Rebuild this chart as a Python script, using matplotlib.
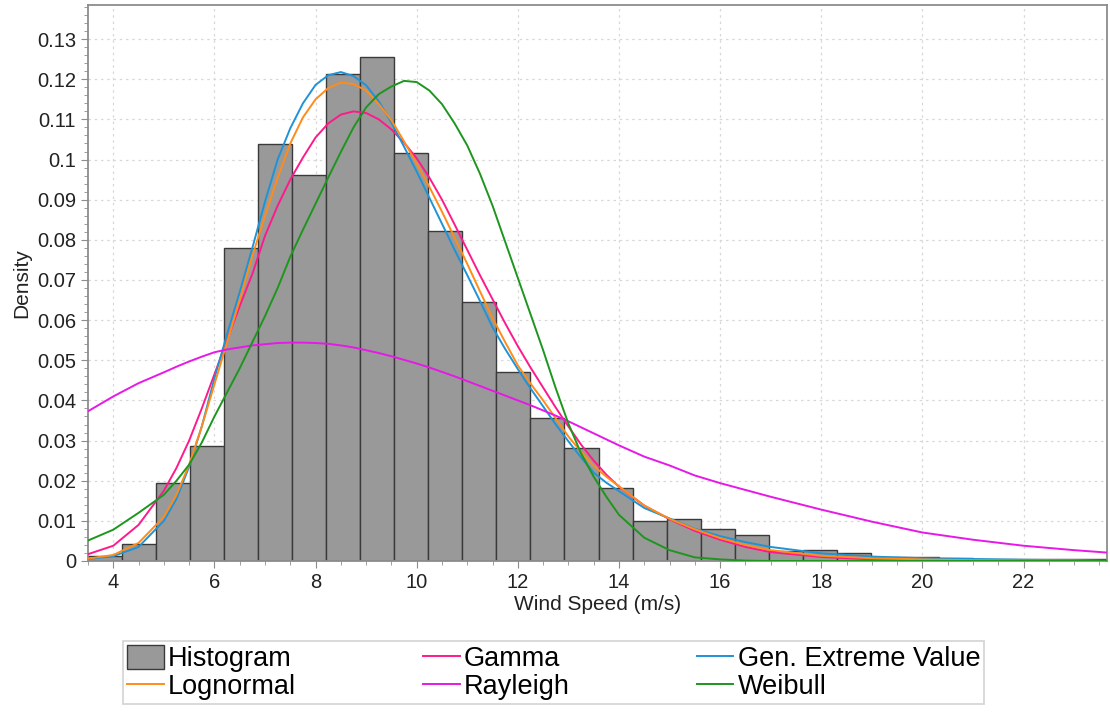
import numpy as np
import matplotlib
matplotlib.use("Agg")
from matplotlib import pyplot as plt
from matplotlib.ticker import MultipleLocator, FuncFormatter

plt.rcParams["font.family"] = ["Liberation Sans", "DejaVu Sans"]

# histogram: 30 bins between 3.5 and 23.69 m/s
bin_lo, bin_hi, n_bins = 3.5, 23.69, 30
hist_density = [0.0012, 0.0042, 0.0195, 0.0287, 0.0780, 0.1038, 0.0962, 0.1212,
                0.1256, 0.1017, 0.0822, 0.0646, 0.0471, 0.0355, 0.0282, 0.0182,
                0.0100, 0.0105, 0.0079, 0.0066, 0.0025, 0.0027, 0.0021, 0.0011,
                0.0009, 0.0008, 0.0004, 0.0004, 0.0004, 0.0004]

curve_x = [3.5, 4, 4.5,
           5, 5.25, 5.5, 5.75, 6, 6.25, 6.5, 6.75, 7, 7.25, 7.5, 7.75,
           8, 8.25, 8.5, 8.75, 9, 9.25, 9.5, 9.75, 10, 10.25, 10.5, 10.75,
           11, 11.25, 11.5, 11.75, 12, 12.25, 12.5, 12.75, 13, 13.25, 13.5, 13.75,
           14, 14.5, 15, 15.5, 16, 16.5, 17, 18, 19, 20, 21, 22, 23, 23.65]
gamma = [0.0017, 0.0038, 0.0090,
         0.0175, 0.0232, 0.0300, 0.0380, 0.0465, 0.0550, 0.0635, 0.0715, 0.0810, 0.0885, 0.0950, 0.1005,
         0.1055, 0.1090, 0.1112, 0.1120, 0.1116, 0.1100, 0.1075, 0.1042, 0.1003, 0.0955, 0.0900, 0.0838,
         0.0775, 0.0712, 0.0652, 0.0592, 0.0535, 0.0482, 0.0432, 0.0382, 0.0335, 0.0290, 0.0250, 0.0215,
         0.0185, 0.0138, 0.0104, 0.0075, 0.0053, 0.0035, 0.0022, 0.0010, 0.0004, 0.0002, 0.0001, 0.0, 0.0, 0.0]
gev = [0.0005, 0.0012, 0.0035,
       0.0100, 0.0155, 0.0235, 0.0335, 0.0455, 0.0565, 0.0670, 0.0780, 0.0895, 0.1000, 0.1078, 0.1140,
       0.1186, 0.1210, 0.1218, 0.1208, 0.1185, 0.1145, 0.1092, 0.1032, 0.0970, 0.0905, 0.0840, 0.0775,
       0.0712, 0.0648, 0.0582, 0.0528, 0.0478, 0.0430, 0.0385, 0.0340, 0.0298, 0.0258, 0.0220, 0.0195,
       0.0174, 0.0132, 0.0106, 0.0080, 0.0062, 0.0047, 0.0035, 0.0019, 0.0011, 0.0007, 0.0005, 0.0003, 0.0002, 0.0001]
lognormal = [0.0006, 0.0015, 0.0045,
             0.0110, 0.0165, 0.0240, 0.0335, 0.0440, 0.0545, 0.0650, 0.0760, 0.0860, 0.0955, 0.1040, 0.1105,
             0.1150, 0.1178, 0.1192, 0.1188, 0.1172, 0.1138, 0.1098, 0.1045, 0.0990, 0.0932, 0.0870, 0.0805,
             0.0740, 0.0672, 0.0605, 0.0545, 0.0487, 0.0442, 0.0400, 0.0355, 0.0310, 0.0272, 0.0237, 0.0210,
             0.0186, 0.0138, 0.0105, 0.0079, 0.0057, 0.0040, 0.0027, 0.0013, 0.0007, 0.0004, 0.0002, 0.0001, 0.0001, 0.0]
rayleigh = [0.0373, 0.0410, 0.0443,
            0.0470, 0.0484, 0.0497, 0.0509, 0.0520, 0.0527, 0.0532, 0.0537, 0.0540, 0.0543, 0.0544, 0.0544,
            0.0543, 0.0541, 0.0537, 0.0532, 0.0525, 0.0518, 0.0510, 0.0501, 0.0492, 0.0482, 0.0471, 0.0460,
            0.0448, 0.0436, 0.0424, 0.0412, 0.0400, 0.0388, 0.0375, 0.0362, 0.0348, 0.0333, 0.0318, 0.0303,
            0.0288, 0.0260, 0.0238, 0.0213, 0.0194, 0.0177, 0.0160, 0.0128, 0.0098, 0.0071, 0.0053, 0.0038, 0.0027, 0.0021]
weibull = [0.0051, 0.0078, 0.0120,
           0.0165, 0.0200, 0.0240, 0.0295, 0.0360, 0.0420, 0.0480, 0.0545, 0.0610, 0.0680, 0.0758, 0.0825,
           0.0890, 0.0955, 0.1019, 0.1080, 0.1130, 0.1163, 0.1182, 0.1196, 0.1193, 0.1172, 0.1138, 0.1090,
           0.1035, 0.0965, 0.0885, 0.0795, 0.0705, 0.0615, 0.0525, 0.0430, 0.0342, 0.0268, 0.0210, 0.0160,
           0.0115, 0.0058, 0.0027, 0.0009, 0.0004, 0.0001, 0.0, 0.0, 0.0, 0.0, 0.0, 0.0, 0.0, 0.0]

fig = plt.figure(figsize=(11.1, 7.12), dpi=100)
ax = fig.add_axes([88 / 1110, 151 / 712, 1019 / 1110, 556 / 712])

edges = np.linspace(bin_lo, bin_hi, n_bins + 1)
hbar = ax.bar(edges[:-1], hist_density, width=np.diff(edges), align="edge",
              color="#999999", edgecolor="#3a3a3a", linewidth=1.0, zorder=2,
              label="Histogram")

lw = 1.4
l_gamma, = ax.plot(curve_x, gamma, color="#ff1a8c", lw=lw, zorder=3, label="Gamma")
l_gev, = ax.plot(curve_x, gev, color="#1f93d6", lw=lw, zorder=3, label="Gen. Extreme Value")
l_logn, = ax.plot(curve_x, lognormal, color="#ff8c1a", lw=lw, zorder=3, label="Lognormal")
l_ray, = ax.plot(curve_x, rayleigh, color="#e619e6", lw=lw, zorder=3, label="Rayleigh")
l_weib, = ax.plot(curve_x, weibull, color="#1e961e", lw=lw, zorder=3, label="Weibull")

ax.set_xlim(3.5, 23.65)
ax.set_ylim(0, 0.1385)
ax.xaxis.set_major_locator(MultipleLocator(2))
ax.xaxis.set_minor_locator(MultipleLocator(0.5))
ax.yaxis.set_major_locator(MultipleLocator(0.01))
ax.yaxis.set_minor_locator(MultipleLocator(0.002))
ax.yaxis.set_major_formatter(FuncFormatter(lambda v, p: "%g" % round(v, 3)))

ax.grid(True, which="major", color="#d8d8d8", linestyle=(0, (2, 3)), linewidth=0.9, zorder=0)
ax.set_axisbelow(True)
for s in ax.spines.values():
    s.set_color("#8c8c8c")
    s.set_linewidth(1.3)
ax.tick_params(which="major", length=5, color="#8c8c8c", labelsize=14.5, labelcolor="#222222")
ax.tick_params(which="minor", length=3, color="#8c8c8c")

ax.set_xlabel("Wind Speed (m/s)", fontsize=15, color="#222222", labelpad=2)
ax.set_ylabel("Density", fontsize=15, color="#222222", labelpad=4)

leg = fig.legend([hbar, l_logn, l_gamma, l_ray, l_gev, l_weib],
                 ["Histogram", "Lognormal", "Gamma", "Rayleigh", "Gen. Extreme Value", "Weibull"],
                 ncol=3, loc="upper left", bbox_to_anchor=(123 / 1110, 1 - 641 / 712),
                 fontsize=19.5, frameon=True, fancybox=False, edgecolor="#c8c8c8",
                 borderaxespad=0, borderpad=0.15, labelspacing=0.02, handlelength=1.35,
                 handleheight=1.0, handletextpad=0.15, columnspacing=4.7)
leg.get_frame().set_linewidth(1.2)

fig.savefig("out.png", dpi=100)
